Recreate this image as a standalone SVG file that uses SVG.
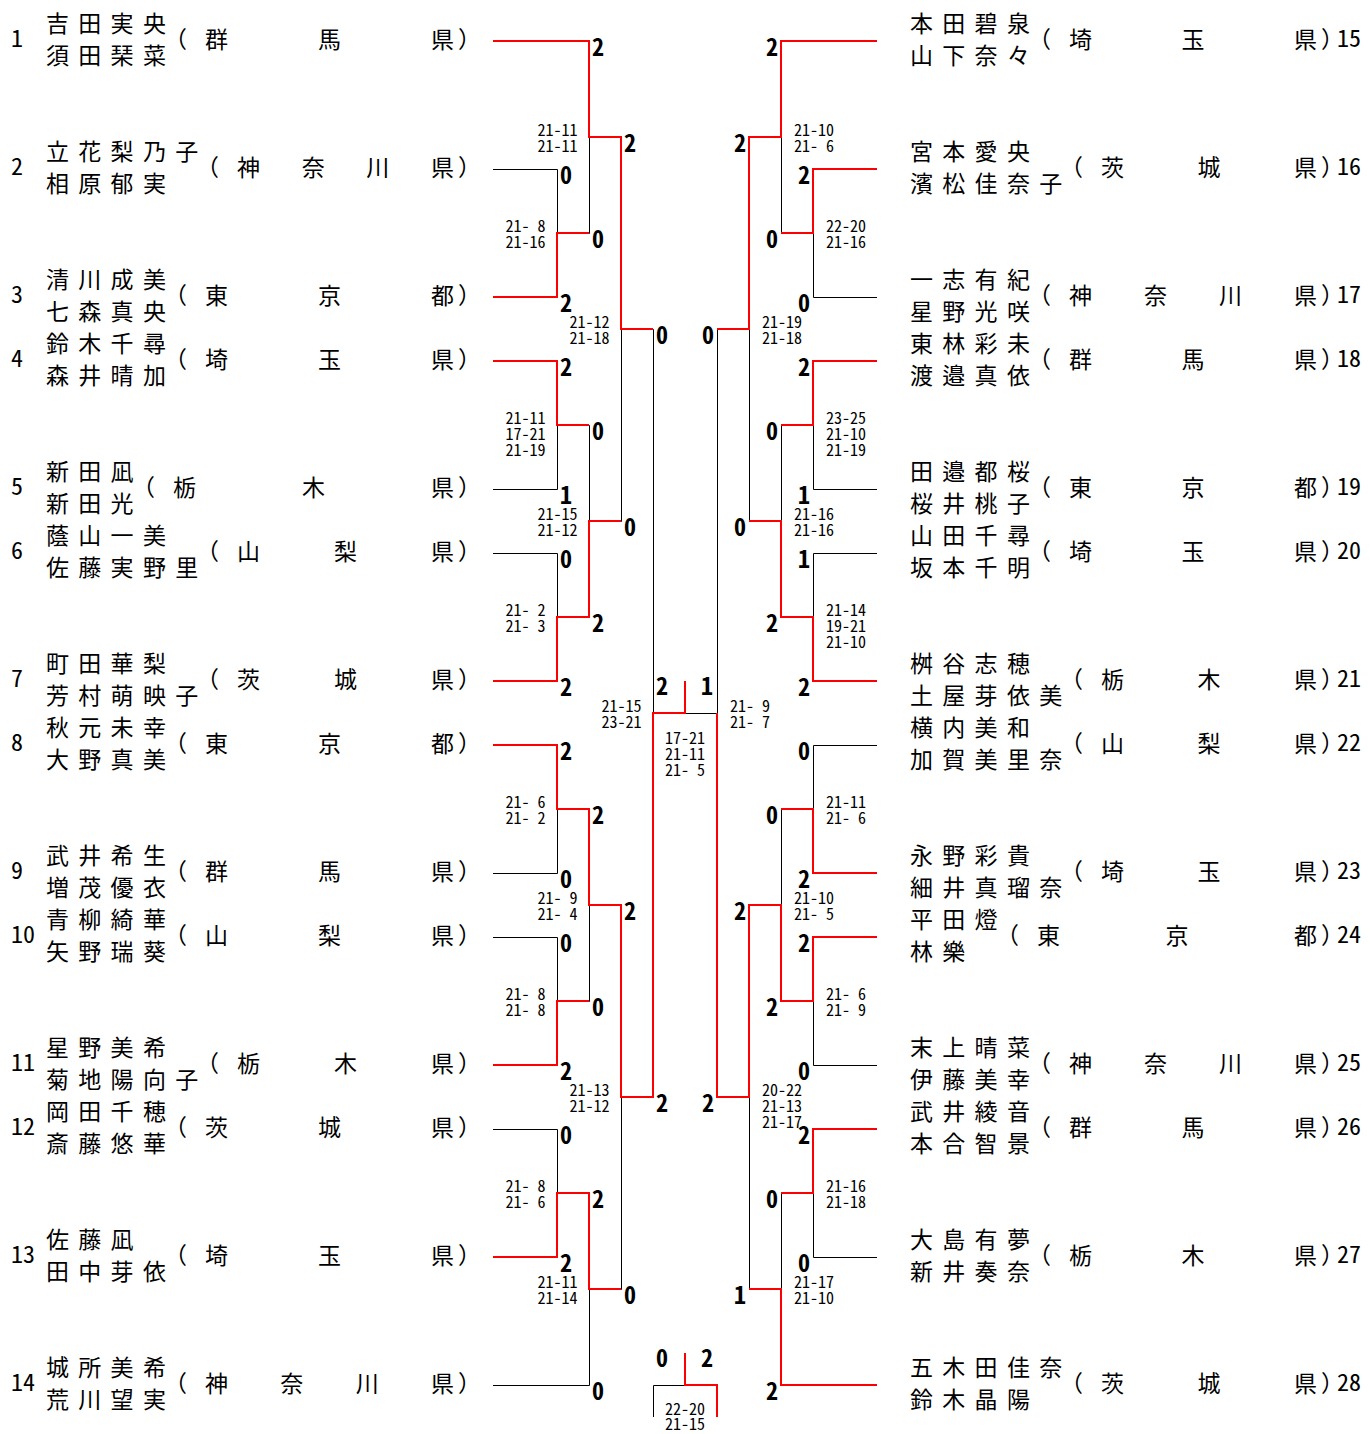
<svg xmlns="http://www.w3.org/2000/svg" width="1371" height="1434" viewBox="0 0 1371 1434">
<style>
text{font-family:"Noto Sans CJK JP","Noto Sans CJK SC",sans-serif;fill:#000}
.nm{font-size:23px;letter-spacing:9.3px}
.pf{font-size:23px}
.no{font-size:24px;font-feature-settings:"hwid" 1}
.nr{font-size:24px;font-feature-settings:"hwid" 1}
.sc{font-size:24px;font-weight:700;font-feature-settings:"hwid" 1}
.se{font-size:24px;font-weight:700;font-feature-settings:"hwid" 1;text-anchor:end}
.st{font-size:16px;font-feature-settings:"hwid" 1;text-anchor:end}
.sr{font-size:16px;font-feature-settings:"hwid" 1}
.sm{font-size:16px;font-feature-settings:"hwid" 1;text-anchor:middle}
.bk{fill:none;stroke:#000;stroke-width:1}
.rd{fill:none;stroke:#f00;stroke-width:2}
</style>
<rect width="1371" height="1434" fill="#fff"/>
<g id="connectors">
<path class="bk" d="M493 41.5H589.5M493 169.5H557.5M493 297.5H557.5M493 361.5H557.5M493 489.5H557.5M493 553.5H557.5M493 681.5H557.5M493 745.5H557.5M493 873.5H557.5M493 937.5H557.5M493 1065.5H557.5M493 1129.5H557.5M493 1257.5H557.5M493 1385.5H589.5
M557.5 169.5V297.5M557.5 361.5V489.5M557.5 553.5V681.5M557.5 745.5V873.5M557.5 937.5V1065.5M557.5 1129.5V1257.5
M557.5 233.5H589.5M557.5 425.5H589.5M557.5 617.5H589.5M557.5 809.5H589.5M557.5 1001.5H589.5M557.5 1193.5H589.5
M589.5 41.5V233.5M589.5 425.5V617.5M589.5 809.5V1001.5M589.5 1193.5V1385.5
M589.5 137.5H621.5M589.5 521.5H621.5M589.5 905.5H621.5M589.5 1289.5H621.5
M621.5 137.5V521.5M621.5 905.5V1289.5M621.5 329.5H653.5M621.5 1097.5H653.5
M653.5 329.5V1097.5M653.5 713.5H717.5M685.5 681V713.5
M877 41.5H781.5M877 169.5H813.5M877 297.5H813.5M877 361.5H813.5M877 489.5H813.5M877 553.5H813.5M877 681.5H813.5M877 745.5H813.5M877 873.5H813.5M877 937.5H813.5M877 1065.5H813.5M877 1129.5H813.5M877 1257.5H813.5M877 1385.5H781.5
M813.5 169.5V297.5M813.5 361.5V489.5M813.5 553.5V681.5M813.5 745.5V873.5M813.5 937.5V1065.5M813.5 1129.5V1257.5
M813.5 233.5H781.5M813.5 425.5H781.5M813.5 617.5H781.5M813.5 809.5H781.5M813.5 1001.5H781.5M813.5 1193.5H781.5
M781.5 41.5V233.5M781.5 425.5V617.5M781.5 809.5V1001.5M781.5 1193.5V1385.5
M781.5 137.5H749.5M781.5 521.5H749.5M781.5 905.5H749.5M781.5 1289.5H749.5
M749.5 137.5V521.5M749.5 905.5V1289.5M749.5 329.5H717.5M749.5 1097.5H717.5
M717.5 329.5V1097.5
M653.5 1417V1385.5H717.5V1417M685.5 1353V1385.5"/>
<path class="rd" d="M493 41H589V137H621V329H653
M493 297H557V233H589
M493 361H557V425H589
M493 681H557V617H589V521H621
M493 745H557V809H589V905H621V1097H653V713H685V681
M493 1065H557V1001H589
M493 1257H557V1193H589V1289H621
M877 41H781V137H749V329H717
M877 169H813V233H781
M877 361H813V425H781
M877 681H813V617H781V521H749
M877 873H813V809H781
M877 937H813V1001H781V905H749V1097H717V713
M877 1129H813V1193H781
M877 1385H781V1289H749
M685 1353V1385H717V1417"/>
</g>
<g id="scores">
<text class="sc" x="592" y="56">2</text>
<text class="sc" x="560" y="184">0</text>
<text class="sc" x="560" y="312">2</text>
<text class="sc" x="592" y="248">0</text>
<text class="sc" x="624" y="152">2</text>
<text class="sc" x="624" y="536">0</text>
<text class="sc" x="656" y="344">0</text>
<text class="sc" x="656" y="1112">2</text>
<text class="sc" x="560" y="376">2</text>
<text class="sc" x="560" y="504">1</text>
<text class="sc" x="592" y="440">0</text>
<text class="sc" x="592" y="632">2</text>
<text class="sc" x="560" y="568">0</text>
<text class="sc" x="560" y="696">2</text>
<text class="sc" x="560" y="760">2</text>
<text class="sc" x="560" y="888">0</text>
<text class="sc" x="592" y="824">2</text>
<text class="sc" x="592" y="1016">0</text>
<text class="sc" x="560" y="952">0</text>
<text class="sc" x="560" y="1080">2</text>
<text class="sc" x="624" y="920">2</text>
<text class="sc" x="624" y="1304">0</text>
<text class="sc" x="560" y="1144">0</text>
<text class="sc" x="560" y="1272">2</text>
<text class="sc" x="592" y="1208">2</text>
<text class="sc" x="592" y="1400">0</text>
<text class="se" x="778" y="56">2</text>
<text class="se" x="810" y="184">2</text>
<text class="se" x="810" y="312">0</text>
<text class="se" x="778" y="248">0</text>
<text class="se" x="746" y="152">2</text>
<text class="se" x="746" y="536">0</text>
<text class="se" x="714" y="344">0</text>
<text class="se" x="714" y="1112">2</text>
<text class="se" x="810" y="376">2</text>
<text class="se" x="810" y="504">1</text>
<text class="se" x="778" y="440">0</text>
<text class="se" x="778" y="632">2</text>
<text class="se" x="810" y="568">1</text>
<text class="se" x="810" y="696">2</text>
<text class="se" x="810" y="760">0</text>
<text class="se" x="810" y="888">2</text>
<text class="se" x="778" y="824">0</text>
<text class="se" x="778" y="1016">2</text>
<text class="se" x="810" y="952">2</text>
<text class="se" x="810" y="1080">0</text>
<text class="se" x="746" y="920">2</text>
<text class="se" x="746" y="1304">1</text>
<text class="se" x="810" y="1144">2</text>
<text class="se" x="810" y="1272">0</text>
<text class="se" x="778" y="1208">0</text>
<text class="se" x="778" y="1400">2</text>
<text class="sc" x="656" y="695">2</text>
<text class="se" x="713" y="695">1</text>
<text class="sc" x="656" y="1367">0</text>
<text class="se" x="713" y="1367">2</text>
<text class="st"><tspan x="577.5" y="136">21-11</tspan><tspan x="577.5" y="152">21-11</tspan></text>
<text class="st"><tspan x="545.5" y="232">21- 8</tspan><tspan x="545.5" y="248">21-16</tspan></text>
<text class="st"><tspan x="609.5" y="328">21-12</tspan><tspan x="609.5" y="344">21-18</tspan></text>
<text class="st"><tspan x="545.5" y="424">21-11</tspan><tspan x="545.5" y="440">17-21</tspan><tspan x="545.5" y="456">21-19</tspan></text>
<text class="st"><tspan x="577.5" y="520">21-15</tspan><tspan x="577.5" y="536">21-12</tspan></text>
<text class="st"><tspan x="545.5" y="616">21- 2</tspan><tspan x="545.5" y="632">21- 3</tspan></text>
<text class="st"><tspan x="641.5" y="712">21-15</tspan><tspan x="641.5" y="728">23-21</tspan></text>
<text class="st"><tspan x="545.5" y="808">21- 6</tspan><tspan x="545.5" y="824">21- 2</tspan></text>
<text class="st"><tspan x="577.5" y="904">21- 9</tspan><tspan x="577.5" y="920">21- 4</tspan></text>
<text class="st"><tspan x="545.5" y="1000">21- 8</tspan><tspan x="545.5" y="1016">21- 8</tspan></text>
<text class="st"><tspan x="609.5" y="1096">21-13</tspan><tspan x="609.5" y="1112">21-12</tspan></text>
<text class="st"><tspan x="545.5" y="1192">21- 8</tspan><tspan x="545.5" y="1208">21- 6</tspan></text>
<text class="st"><tspan x="577.5" y="1288">21-11</tspan><tspan x="577.5" y="1304">21-14</tspan></text>
<text class="sm"><tspan x="685" y="744">17-21</tspan><tspan x="685" y="760">21-11</tspan><tspan x="685" y="776">21- 5</tspan></text>
<text class="sm"><tspan x="685" y="1415">22-20</tspan><tspan x="685" y="1430">21-15</tspan></text>
<text class="sr"><tspan x="794" y="136">21-10</tspan><tspan x="794" y="152">21- 6</tspan></text>
<text class="sr"><tspan x="826" y="232">22-20</tspan><tspan x="826" y="248">21-16</tspan></text>
<text class="sr"><tspan x="762" y="328">21-19</tspan><tspan x="762" y="344">21-18</tspan></text>
<text class="sr"><tspan x="826" y="424">23-25</tspan><tspan x="826" y="440">21-10</tspan><tspan x="826" y="456">21-19</tspan></text>
<text class="sr"><tspan x="794" y="520">21-16</tspan><tspan x="794" y="536">21-16</tspan></text>
<text class="sr"><tspan x="826" y="616">21-14</tspan><tspan x="826" y="632">19-21</tspan><tspan x="826" y="648">21-10</tspan></text>
<text class="sr"><tspan x="730" y="712">21- 9</tspan><tspan x="730" y="728">21- 7</tspan></text>
<text class="sr"><tspan x="826" y="808">21-11</tspan><tspan x="826" y="824">21- 6</tspan></text>
<text class="sr"><tspan x="794" y="904">21-10</tspan><tspan x="794" y="920">21- 5</tspan></text>
<text class="sr"><tspan x="826" y="1000">21- 6</tspan><tspan x="826" y="1016">21- 9</tspan></text>
<text class="sr"><tspan x="762" y="1096">20-22</tspan><tspan x="762" y="1112">21-13</tspan><tspan x="762" y="1128">21-17</tspan></text>
<text class="sr"><tspan x="826" y="1192">21-16</tspan><tspan x="826" y="1208">21-18</tspan></text>
<text class="sr"><tspan x="794" y="1288">21-17</tspan><tspan x="794" y="1304">21-10</tspan></text>
</g>
<g id="p1"><text class="no" x="11" y="47">1</text><text class="nm" x="46" y="32">吉田実央</text><text class="nm" x="46" y="64">須田琹菜</text><text class="pf" x="164 205 318 431 458" y="48">（群馬県）</text></g>
<g id="p2"><text class="no" x="11" y="175">2</text><text class="nm" x="46" y="160">立花梨乃子</text><text class="nm" x="46" y="192">相原郁実</text><text class="pf" x="196 237 301.7 366.3 431 458" y="176">（神奈川県）</text></g>
<g id="p3"><text class="no" x="11" y="303">3</text><text class="nm" x="46" y="288">清川成美</text><text class="nm" x="46" y="320">七森真央</text><text class="pf" x="164 205 318 431 458" y="304">（東京都）</text></g>
<g id="p4"><text class="no" x="11" y="367">4</text><text class="nm" x="46" y="352">鈴木千尋</text><text class="nm" x="46" y="384">森井晴加</text><text class="pf" x="164 205 318 431 458" y="368">（埼玉県）</text></g>
<g id="p5"><text class="no" x="11" y="495">5</text><text class="nm" x="46" y="480">新田凪</text><text class="nm" x="46" y="512">新田光</text><text class="pf" x="132 173 302 431 458" y="496">（栃木県）</text></g>
<g id="p6"><text class="no" x="11" y="559">6</text><text class="nm" x="46" y="544">蔭山一美</text><text class="nm" x="46" y="576">佐藤実野里</text><text class="pf" x="196 237 334 431 458" y="560">（山梨県）</text></g>
<g id="p7"><text class="no" x="11" y="687">7</text><text class="nm" x="46" y="672">町田華梨</text><text class="nm" x="46" y="704">芳村萌映子</text><text class="pf" x="196 237 334 431 458" y="688">（茨城県）</text></g>
<g id="p8"><text class="no" x="11" y="751">8</text><text class="nm" x="46" y="736">秋元未幸</text><text class="nm" x="46" y="768">大野真美</text><text class="pf" x="164 205 318 431 458" y="752">（東京都）</text></g>
<g id="p9"><text class="no" x="11" y="879">9</text><text class="nm" x="46" y="864">武井希生</text><text class="nm" x="46" y="896">増茂優衣</text><text class="pf" x="164 205 318 431 458" y="880">（群馬県）</text></g>
<g id="p10"><text class="no" x="11" y="943">10</text><text class="nm" x="46" y="928">青柳綺華</text><text class="nm" x="46" y="960">矢野瑞葵</text><text class="pf" x="164 205 318 431 458" y="944">（山梨県）</text></g>
<g id="p11"><text class="no" x="11" y="1071">11</text><text class="nm" x="46" y="1056">星野美希</text><text class="nm" x="46" y="1088">菊地陽向子</text><text class="pf" x="196 237 334 431 458" y="1072">（栃木県）</text></g>
<g id="p12"><text class="no" x="11" y="1135">12</text><text class="nm" x="46" y="1120">岡田千穂</text><text class="nm" x="46" y="1152">斎藤悠華</text><text class="pf" x="164 205 318 431 458" y="1136">（茨城県）</text></g>
<g id="p13"><text class="no" x="11" y="1263">13</text><text class="nm" x="46" y="1248">佐藤凪</text><text class="nm" x="46" y="1280">田中芽依</text><text class="pf" x="164 205 318 431 458" y="1264">（埼玉県）</text></g>
<g id="p14"><text class="no" x="11" y="1391">14</text><text class="nm" x="46" y="1376">城所美希</text><text class="nm" x="46" y="1408">荒川望実</text><text class="pf" x="164 205 280.3 355.7 431 458" y="1392">（神奈川県）</text></g>
<g id="p15"><text class="nm" x="910" y="32">本田碧泉</text><text class="nm" x="910" y="64">山下奈々</text><text class="pf" x="1028 1069 1181.5 1294 1321" y="48">（埼玉県）</text><text class="nr" x="1337" y="47">15</text></g>
<g id="p16"><text class="nm" x="910" y="160">宮本愛央</text><text class="nm" x="910" y="192">濱松佳奈子</text><text class="pf" x="1060 1101 1197.5 1294 1321" y="176">（茨城県）</text><text class="nr" x="1337" y="175">16</text></g>
<g id="p17"><text class="nm" x="910" y="288">一志有紀</text><text class="nm" x="910" y="320">星野光咲</text><text class="pf" x="1028 1069 1144 1219 1294 1321" y="304">（神奈川県）</text><text class="nr" x="1337" y="303">17</text></g>
<g id="p18"><text class="nm" x="910" y="352">東林彩未</text><text class="nm" x="910" y="384">渡邉真依</text><text class="pf" x="1028 1069 1181.5 1294 1321" y="368">（群馬県）</text><text class="nr" x="1337" y="367">18</text></g>
<g id="p19"><text class="nm" x="910" y="480">田邉都桜</text><text class="nm" x="910" y="512">桜井桃子</text><text class="pf" x="1028 1069 1181.5 1294 1321" y="496">（東京都）</text><text class="nr" x="1337" y="495">19</text></g>
<g id="p20"><text class="nm" x="910" y="544">山田千尋</text><text class="nm" x="910" y="576">坂本千明</text><text class="pf" x="1028 1069 1181.5 1294 1321" y="560">（埼玉県）</text><text class="nr" x="1337" y="559">20</text></g>
<g id="p21"><text class="nm" x="910" y="672">桝谷志穂</text><text class="nm" x="910" y="704">土屋芽依美</text><text class="pf" x="1060 1101 1197.5 1294 1321" y="688">（栃木県）</text><text class="nr" x="1337" y="687">21</text></g>
<g id="p22"><text class="nm" x="910" y="736">横内美和</text><text class="nm" x="910" y="768">加賀美里奈</text><text class="pf" x="1060 1101 1197.5 1294 1321" y="752">（山梨県）</text><text class="nr" x="1337" y="751">22</text></g>
<g id="p23"><text class="nm" x="910" y="864">永野彩貴</text><text class="nm" x="910" y="896">細井真瑠奈</text><text class="pf" x="1060 1101 1197.5 1294 1321" y="880">（埼玉県）</text><text class="nr" x="1337" y="879">23</text></g>
<g id="p24"><text class="nm" x="910" y="928">平田燈</text><text class="nm" x="910" y="960">林樂</text><text class="pf" x="996 1037 1165.5 1294 1321" y="944">（東京都）</text><text class="nr" x="1337" y="943">24</text></g>
<g id="p25"><text class="nm" x="910" y="1056">末上晴菜</text><text class="nm" x="910" y="1088">伊藤美幸</text><text class="pf" x="1028 1069 1144 1219 1294 1321" y="1072">（神奈川県）</text><text class="nr" x="1337" y="1071">25</text></g>
<g id="p26"><text class="nm" x="910" y="1120">武井綾音</text><text class="nm" x="910" y="1152">本合智景</text><text class="pf" x="1028 1069 1181.5 1294 1321" y="1136">（群馬県）</text><text class="nr" x="1337" y="1135">26</text></g>
<g id="p27"><text class="nm" x="910" y="1248">大島有夢</text><text class="nm" x="910" y="1280">新井奏奈</text><text class="pf" x="1028 1069 1181.5 1294 1321" y="1264">（栃木県）</text><text class="nr" x="1337" y="1263">27</text></g>
<g id="p28"><text class="nm" x="910" y="1376">五木田佳奈</text><text class="nm" x="910" y="1408">鈴木晶陽</text><text class="pf" x="1060 1101 1197.5 1294 1321" y="1392">（茨城県）</text><text class="nr" x="1337" y="1391">28</text></g>
</svg>
